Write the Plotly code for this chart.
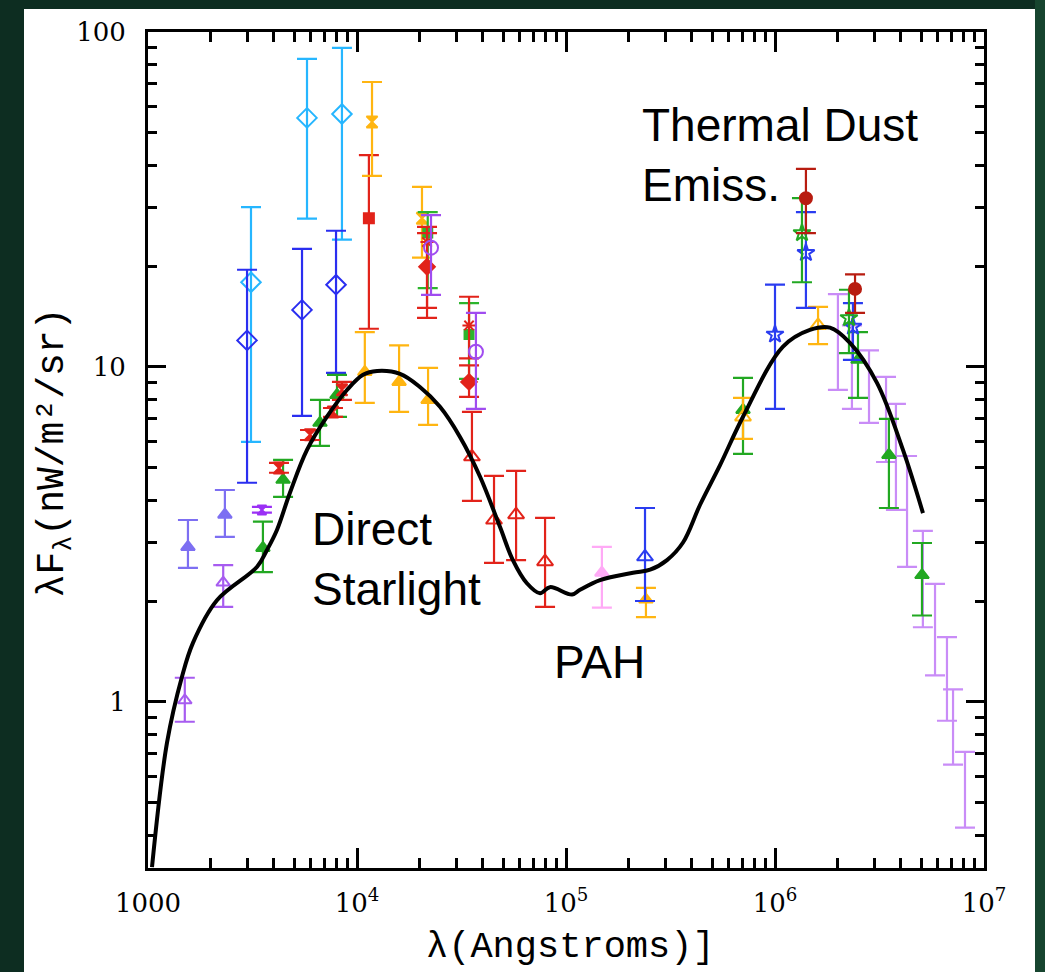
import numpy as np
import plotly.graph_objects as go

# ---------------- model curve (wavelength in Angstrom, lambda F_lambda in nW/m^2/sr)
curve_wl = [1045, 1233, 1455, 1641, 2138, 3327, 3709, 4140, 4777, 5765, 7183, 8954,
            10690, 12480, 16070, 20000, 24950, 31100, 38800, 48300, 55700, 65000,
            75100, 83800, 106900, 116700, 145500, 209300, 252600, 304300, 363000,
            437500, 545800, 703000, 1092000, 1469000, 1832000, 2284000, 3076000,
            4096000, 5105000]
curve_flux = [0.321, 0.755, 1.19, 1.50, 2.01, 2.53, 2.84, 3.26, 4.21, 5.65, 7.10, 8.53,
              9.47, 9.72, 9.53, 8.71, 7.60, 6.18, 4.70, 3.33, 2.65, 2.26,
              2.11, 2.20, 2.09, 2.16, 2.31, 2.43, 2.48, 2.65, 2.99,
              3.87, 5.09, 7.10, 11.5, 12.9, 13.1, 11.8, 8.96,
              5.65, 3.66]

# ---------------- measurements: wavelength, value, upper end, lower end
uv_open_wl = [1500, 2290]
uv_open_y = [1.01, 2.27]
uv_open_hi = [1.18, 2.56]
uv_open_lo = [0.872, 1.92]

lav_tri_wl = [1553, 2333]
lav_tri_y = [2.90, 3.62]
lav_tri_hi = [3.49, 4.29]
lav_tri_lo = [2.51, 3.11]

pur_tri_wl = [3508]
pur_tri_y = [3.74]
pur_tri_hi = [3.82]
pur_tri_lo = [3.67]

grn_tri_wl = [3547, 4428, 6650, 8023, 703000, 2495000, 3508000, 5050000]
grn_tri_y = [2.88, 4.60, 6.81, 8.25, 7.44, 10.5, 5.46, 2.39]
grn_tri_hi = [3.45, 5.28, 7.97, 9.47, 9.27, 12.7, 7.00, 2.98]
grn_tri_lo = [2.44, 4.09, 5.81, 7.09, 5.50, 8.08, 3.79, 1.81]

red_tri_wl = [4234, 5960, 7676, 8472]
red_tri_y = [4.99, 6.27, 7.34, 8.54]
red_tri_hi = [5.17, 6.48, 7.54, 9.02]
red_tri_lo = [4.83, 6.05, 7.09, 7.97]

blu_dia_wl = [2978, 5457, 7937]
blu_dia_y = [12.0, 14.8, 17.6]
blu_dia_hi = [19.5, 22.5, 25.5]
blu_dia_lo = [4.51, 7.14, 9.60]

cyan_dia_wl = [3110, 5765, 8472]
cyan_dia_y = [17.9, 55.4, 56.9]
cyan_dia_hi = [30.0, 83.1, 89.6]
cyan_dia_lo = [5.97, 27.7, 24.0]

red_sq_wl = [11400]
red_sq_y = [27.8]
red_sq_hi = [42.9]
red_sq_lo = [13.0]

org_hg_wl = [11800, 20460]
org_hg_y = [53.9, 27.8]
org_hg_hi = [70.9, 34.5]
org_hg_lo = [37.2, 21.2]

org_tri_wl = [10900, 15900, 21880, 241300]
org_tri_y = [9.66, 9.02, 7.97, 2.02]
org_tri_hi = [12.7, 11.6, 9.93, 2.19]
org_tri_lo = [7.81, 7.34, 6.71, 1.79]

org_open_wl = [703000, 1607000]
org_open_y = [7.09, 13.3]
org_open_hi = [8.08, 15.1]
org_open_lo = [6.10, 11.7]

grn_sq_wl = [21800, 34360]
grn_sq_y = [25.1, 12.5]
grn_sq_hi = [29.0, 15.5]
grn_sq_lo = [17.2, 9.21]

red_x_wl = [21630, 34360]
red_x_y = [23.6, 13.3]
red_x_hi = [26.2, 16.2]
red_x_lo = [15.0, 10.6]

red_dia_wl = [21630, 34360]
red_dia_y = [19.9, 9.02]
red_dia_hi = [25.1, 10.1]
red_dia_lo = [14.0, 8.14]

pur_circ_wl = [22600, 37070]
pur_circ_y = [22.7, 11.1]
pur_circ_hi = [28.4, 14.5]
pur_circ_lo = [16.4, 7.49]

red_open_wl = [35480, 45250, 57700, 79400]
red_open_y = [5.39, 3.49, 3.62, 2.62]
red_open_hi = [7.34, 4.73, 4.89, 3.54]
red_open_lo = [3.98, 2.60, 2.65, 1.92]

pink_wl = [148500]
pink_y = [2.43]
pink_hi = [2.90]
pink_lo = [1.91]

blu_open_wl = [238800]
blu_open_y = [2.71]
blu_open_hi = [3.79]
blu_open_lo = [2.00]

blu_star_wl = [1000000, 1406000, 2360000]
blu_star_y = [12.5, 21.9, 13.2]
blu_star_hi = [17.6, 29.0, 15.5]
blu_star_lo = [7.49, 15.0, 10.5]

grn_star_wl = [1346000, 2259000]
grn_star_y = [25.1, 14.0]
grn_star_hi = [31.9, 17.0]
grn_star_lo = [17.9, 11.0]

dred_circ_wl = [1406000, 2415000]
dred_circ_y = [31.9, 17.1]
dred_circ_hi = [39.0, 18.9]
dred_circ_lo = [25.1, 14.5]

lpur_bar_wl = [2000000, 2334000, 2817000, 3398000, 3790000, 4283000, 5100000,
               5830000, 6650000, 7110000, 8110000]
lpur_bar_hi = [16.5, 13.3, 11.2, 9.34, 7.76, 5.42, 3.24, 2.25, 1.56, 1.09, 0.709]
lpur_bar_lo = [8.54, 7.49, 6.81, 5.20, 3.74, 2.53, 1.67, 1.20, 0.878, 0.649, 0.421]

# tick labels
x_tickvals = [1e3, 1e4, 1e5, 1e6, 1e7]
x_ticktext = ["1000", "10<sup>4</sup>", "10<sup>5</sup>", "10<sup>6</sup>", "10<sup>7</sup>"]
y_tickvals = [1, 10, 100]
y_ticktext = ["1", "10", "100"]

fig = go.Figure()


def add_points(wl, y, hi, lo, color, symbol, size=12, lw=2):
    y = np.array(y, float)
    fig.add_trace(go.Scatter(
        x=wl, y=y, mode="markers",
        marker=dict(symbol=symbol, size=size, color=color,
                    line=dict(color=color, width=lw)),
        error_y=dict(type="data", symmetric=False,
                     array=np.array(hi) - y, arrayminus=y - np.array(lo),
                     color=color, thickness=2.2, width=10),
        showlegend=False, hoverinfo="skip"))


# light purple bars (no visible symbol)
lp_hi = np.array(lpur_bar_hi)
lp_lo = np.array(lpur_bar_lo)
lp_mid = np.sqrt(lp_hi * lp_lo)
add_points(lpur_bar_wl, lp_mid, lp_hi, lp_lo, "#c98cf7", "line-ew", size=1, lw=0)

add_points(uv_open_wl, uv_open_y, uv_open_hi, uv_open_lo, "#a75cf0", "triangle-up-open")
add_points(lav_tri_wl, lav_tri_y, lav_tri_hi, lav_tri_lo, "#7d6ff2", "triangle-up")
add_points(pur_tri_wl, pur_tri_y, pur_tri_hi, pur_tri_lo, "#9b30f5", "hourglass", size=9)
add_points(cyan_dia_wl, cyan_dia_y, cyan_dia_hi, cyan_dia_lo, "#26b6ff", "diamond-open", size=15)
add_points(blu_dia_wl, blu_dia_y, blu_dia_hi, blu_dia_lo, "#2a2ef0", "diamond-open", size=15)
add_points(red_sq_wl, red_sq_y, red_sq_hi, red_sq_lo, "#e2231a", "square", size=10)
add_points(org_hg_wl, org_hg_y, org_hg_hi, org_hg_lo, "#ffb511", "hourglass", size=11)
add_points(grn_sq_wl, grn_sq_y, grn_sq_hi, grn_sq_lo, "#2cb52c", "square", size=9)
add_points(red_x_wl, red_x_y, red_x_hi, red_x_lo, "#e2231a", "asterisk-open", size=11)
add_points(red_dia_wl, red_dia_y, red_dia_hi, red_dia_lo, "#e2231a", "diamond", size=12)
add_points(pur_circ_wl, pur_circ_y, pur_circ_hi, pur_circ_lo, "#a04cf0", "circle-open", size=14)
add_points(org_tri_wl, org_tri_y, org_tri_hi, org_tri_lo, "#ffb511", "triangle-up")
add_points(grn_tri_wl, grn_tri_y, grn_tri_hi, grn_tri_lo, "#22a822", "triangle-up")
add_points(red_tri_wl, red_tri_y, red_tri_hi, red_tri_lo, "#e2231a", "hourglass", size=11)
add_points(red_open_wl, red_open_y, red_open_hi, red_open_lo, "#e2231a", "triangle-up-open", size=14)
add_points(pink_wl, pink_y, pink_hi, pink_lo, "#ffaaf6", "triangle-up")
add_points(blu_open_wl, blu_open_y, blu_open_hi, blu_open_lo, "#2a3cf0", "triangle-up-open", size=14)
add_points(org_open_wl, org_open_y, org_open_hi, org_open_lo, "#ffb511", "triangle-up-open", size=14)
add_points(blu_star_wl, blu_star_y, blu_star_hi, blu_star_lo, "#2a3cf0", "star-open", size=13)
add_points(grn_star_wl, grn_star_y, grn_star_hi, grn_star_lo, "#22a822", "star-open", size=13)
add_points(dred_circ_wl, dred_circ_y, dred_circ_hi, dred_circ_lo, "#b81c10", "circle", size=12)

# model curve
fig.add_trace(go.Scatter(x=curve_wl, y=curve_flux, mode="lines",
                         line=dict(color="black", width=4, shape="spline", smoothing=1.0),
                         showlegend=False, hoverinfo="skip"))

# minor tick positions for log axes
x_minor = [m * 10 ** d for d in range(3, 7) for m in range(2, 10)]
y_minor = [m * 10 ** d for d in range(-1, 2) for m in range(2, 10) if m * 10 ** d >= 0.32]

axis_common = dict(showgrid=False, zeroline=False, showline=True, linecolor="black",
                   linewidth=3, mirror="ticks", ticks="inside", tickcolor="black",
                   tickwidth=3, tickfont=dict(family="DejaVu Serif", size=26, color="black"))

fig.update_xaxes(type="log", range=[3, 7], tickmode="array", tickvals=x_tickvals,
                 ticktext=x_ticktext, ticklen=20, ticklabelstandoff=10,
                 minor=dict(tickmode="array", tickvals=x_minor, ticks="inside",
                            ticklen=10, tickwidth=2.5, tickcolor="black", showgrid=False),
                 **axis_common)
fig.update_yaxes(type="log", range=[np.log10(0.319), 2], tickmode="array",
                 tickvals=y_tickvals, ticktext=y_ticktext, ticklen=18,
                 ticklabelstandoff=14,
                 minor=dict(tickmode="array", tickvals=y_minor, ticks="inside",
                            ticklen=9, tickwidth=2.5, tickcolor="black", showgrid=False),
                 **axis_common)

ann_font = dict(family="Liberation Sans", size=46, color="black")
annotations = [
    dict(x=np.log10(226000), y=np.log10(42.9), xref="x", yref="y", text="Thermal Dust<br>Emiss.",
         showarrow=False, xanchor="left", yanchor="middle", align="left", font=ann_font),
    dict(x=np.log10(5960), y=np.log10(2.67), xref="x", yref="y", text="Direct<br>Starlight",
         showarrow=False, xanchor="left", yanchor="middle", align="left", font=ann_font),
    dict(x=np.log10(143900), y=np.log10(1.316), xref="x", yref="y", text="PAH",
         showarrow=False, xanchor="center", yanchor="middle", font=ann_font),
    dict(x=-0.111, y=0.4976, xref="paper", yref="paper", text="λF<sub>λ</sub>(nW/m²/sr)",
         textangle=-90, showarrow=False, xanchor="center", yanchor="middle",
         font=dict(family="Liberation Mono", size=38, color="black")),
    dict(x=0.505, y=-0.094, xref="paper", yref="paper", text="λ(Angstroms)]",
         showarrow=False, xanchor="center", yanchor="middle",
         font=dict(family="Liberation Mono", size=37, color="black")),
]

W, H = 1045, 972
L, R, T, B = 148, 61, 32, 104
pw, ph = W - L - R, H - T - B


def px_to_paper_x(px):
    return (px - L) / pw


def px_to_paper_y(py):
    return (H - B - py) / ph


shapes = [
    dict(type="rect", xref="paper", yref="paper", layer="below",
         x0=px_to_paper_x(24), x1=px_to_paper_x(1035), y0=px_to_paper_y(972), y1=px_to_paper_y(9),
         fillcolor="white", line=dict(width=0)),
    dict(type="rect", xref="paper", yref="paper", layer="below",
         x0=px_to_paper_x(1035), x1=px_to_paper_x(1046), y0=px_to_paper_y(973), y1=px_to_paper_y(0),
         fillcolor="#17452f", line=dict(width=0)),
]

fig.update_layout(width=W, height=H, margin=dict(l=L, r=R, t=T, b=B),
                  paper_bgcolor="#0d2d21", plot_bgcolor="white",
                  annotations=annotations, shapes=shapes, showlegend=False)

fig.write_html("out.html")
